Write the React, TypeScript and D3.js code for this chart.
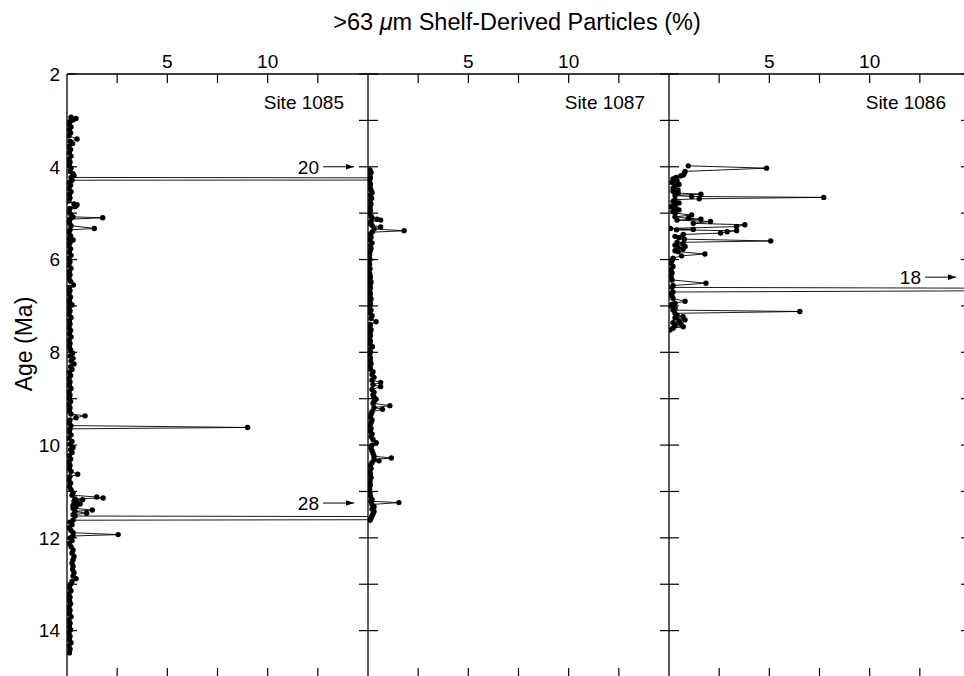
import React from 'react';
import * as d3 from 'd3';

// ages in Ma, values in % (>63 um shelf-derived particles)
const site1085: [number, number][] = [
  [2.93, 0.2], [2.96, 0.45], [2.99, 0.3], [3.03, 0.15], [3.08, 0.1], [3.14, 0.2], [3.2, 0.12], [3.27, 0.18],
  [3.33, 0.1], [3.4, 0.5], [3.45, 0.15], [3.5, 0.28], [3.56, 0.1], [3.63, 0.18], [3.7, 0.12], [3.77, 0.2],
  [3.84, 0.1], [3.9, 0.15], [3.97, 0.12], [4.03, 0.2], [4.1, 0.15], [4.15, 0.3], [4.19, 0.35], [4.23, 0.2],
  [4.24, 20], [4.285, 20], [4.29, 0.25], [4.34, 0.12], [4.4, 0.18], [4.47, 0.1], [4.54, 0.2], [4.6, 0.12],
  [4.67, 0.15], [4.74, 0.1], [4.8, 0.35], [4.82, 0.5], [4.84, 0.45], [4.86, 0.4], [4.9, 0.15], [4.97, 0.1],
  [5.03, 0.2], [5.08, 0.3], [5.1, 1.78], [5.13, 0.15], [5.2, 0.12], [5.27, 0.2], [5.33, 1.36], [5.36, 0.15],
  [5.42, 0.1], [5.49, 0.18], [5.55, 0.12], [5.58, 0.3], [5.63, 0.15], [5.7, 0.1], [5.77, 0.18], [5.84, 0.12],
  [5.91, 0.2], [5.98, 0.1], [6.05, 0.15], [6.12, 0.1], [6.19, 0.2], [6.26, 0.12], [6.33, 0.15], [6.4, 0.1],
  [6.47, 0.18], [6.55, 0.32], [6.6, 0.12], [6.67, 0.15], [6.74, 0.1], [6.81, 0.18], [6.88, 0.12], [6.94, 0.15],
  [6.98, 0.25], [7.04, 0.1], [7.11, 0.15], [7.18, 0.1], [7.25, 0.2], [7.32, 0.12], [7.39, 0.15], [7.46, 0.1],
  [7.53, 0.18], [7.6, 0.12], [7.67, 0.2], [7.74, 0.1], [7.81, 0.15], [7.88, 0.12], [7.95, 0.18], [8.02, 0.28],
  [8.08, 0.15], [8.13, 0.3], [8.19, 0.2], [8.25, 0.35], [8.31, 0.18], [8.37, 0.25], [8.43, 0.12], [8.5, 0.18],
  [8.57, 0.1], [8.64, 0.15], [8.71, 0.12], [8.78, 0.2], [8.85, 0.1], [8.92, 0.15], [8.99, 0.12], [9.06, 0.18],
  [9.13, 0.1], [9.2, 0.15], [9.27, 0.12], [9.33, 0.2], [9.37, 0.9], [9.41, 0.45], [9.46, 0.15], [9.52, 0.12],
  [9.58, 0.2], [9.62, 9.0], [9.65, 0.15], [9.71, 0.12], [9.78, 0.2], [9.85, 0.1], [9.92, 0.25], [9.98, 0.15],
  [10.05, 0.3], [10.1, 0.18], [10.16, 0.25], [10.23, 0.12], [10.3, 0.18], [10.37, 0.1], [10.44, 0.15], [10.51, 0.12],
  [10.57, 0.2], [10.63, 0.53], [10.68, 0.15], [10.75, 0.1], [10.82, 0.18], [10.89, 0.12], [10.96, 0.2], [11.03, 0.3],
  [11.08, 0.25], [11.12, 1.48], [11.14, 1.8], [11.16, 0.4], [11.18, 0.78], [11.21, 0.35], [11.24, 0.5], [11.27, 0.65],
  [11.3, 0.3], [11.33, 0.45], [11.36, 0.3], [11.4, 1.26], [11.43, 0.4], [11.47, 0.98], [11.5, 0.3], [11.53, 0.4],
  [11.55, 28], [11.6, 28], [11.62, 0.3], [11.66, 0.15], [11.72, 0.25], [11.78, 0.12], [11.84, 0.2], [11.89, 0.3],
  [11.93, 2.55], [11.96, 0.3], [12.0, 0.15], [12.06, 0.25], [12.12, 0.12], [12.19, 0.2], [12.26, 0.3], [12.33, 0.25],
  [12.4, 0.35], [12.47, 0.3], [12.54, 0.25], [12.61, 0.3], [12.68, 0.28], [12.75, 0.35], [12.82, 0.3], [12.88, 0.45],
  [12.94, 0.25], [13.0, 0.18], [13.07, 0.12], [13.14, 0.2], [13.21, 0.1], [13.28, 0.15], [13.35, 0.12], [13.42, 0.18],
  [13.49, 0.1], [13.56, 0.15], [13.63, 0.12], [13.7, 0.2], [13.77, 0.1], [13.84, 0.15], [13.91, 0.12], [13.98, 0.18],
  [14.05, 0.1], [14.12, 0.15], [14.19, 0.12], [14.26, 0.2], [14.33, 0.1], [14.4, 0.15], [14.48, 0.12],
];

const site1087: [number, number][] = [
  [4.07, 0.1], [4.12, 0.15], [4.18, 0.1], [4.24, 0.12], [4.3, 0.08], [4.37, 0.12], [4.44, 0.1], [4.5, 0.15],
  [4.56, 0.2], [4.62, 0.12], [4.68, 0.18], [4.74, 0.1], [4.8, 0.15], [4.87, 0.1], [4.94, 0.12], [5.0, 0.08],
  [5.06, 0.15], [5.1, 0.2], [5.13, 0.45], [5.15, 0.63], [5.18, 0.15], [5.22, 0.1], [5.26, 0.2], [5.3, 0.63],
  [5.34, 0.3], [5.38, 1.8], [5.41, 0.2], [5.46, 0.1], [5.52, 0.15], [5.58, 0.1], [5.64, 0.2], [5.7, 0.12],
  [5.76, 0.15], [5.82, 0.1], [5.9, 0.08], [6.0, 0.1], [6.1, 0.08], [6.2, 0.1], [6.3, 0.08], [6.37, 0.12],
  [6.43, 0.1], [6.49, 0.15], [6.55, 0.1], [6.61, 0.12], [6.67, 0.08], [6.73, 0.12], [6.79, 0.1], [6.85, 0.15],
  [6.91, 0.1], [6.97, 0.12], [7.03, 0.08], [7.09, 0.15], [7.15, 0.1], [7.21, 0.2], [7.27, 0.15], [7.34, 0.4],
  [7.4, 0.12], [7.46, 0.1], [7.52, 0.15], [7.58, 0.1], [7.64, 0.12], [7.7, 0.08], [7.76, 0.12], [7.82, 0.1],
  [7.88, 0.22], [7.94, 0.1], [8.0, 0.12], [8.06, 0.08], [8.12, 0.12], [8.18, 0.1], [8.24, 0.15], [8.3, 0.1],
  [8.36, 0.12], [8.42, 0.25], [8.48, 0.2], [8.54, 0.3], [8.6, 0.2], [8.65, 0.63], [8.7, 0.25], [8.74, 0.63],
  [8.8, 0.2], [8.86, 0.3], [8.92, 0.25], [8.97, 0.3], [9.01, 0.4], [9.06, 0.3], [9.1, 0.25], [9.15, 1.09],
  [9.19, 0.3], [9.23, 0.72], [9.28, 0.2], [9.34, 0.15], [9.4, 0.12], [9.46, 0.2], [9.52, 0.15], [9.58, 0.1],
  [9.64, 0.15], [9.7, 0.12], [9.76, 0.2], [9.82, 0.15], [9.88, 0.25], [9.95, 0.41], [10.0, 0.2], [10.06, 0.15],
  [10.12, 0.2], [10.18, 0.25], [10.24, 0.3], [10.28, 1.16], [10.31, 0.3], [10.34, 0.55], [10.38, 0.2], [10.44, 0.12],
  [10.5, 0.15], [10.56, 0.1], [10.62, 0.12], [10.7, 0.15], [10.78, 0.1], [10.86, 0.12], [10.94, 0.08], [11.02, 0.1],
  [11.1, 0.12], [11.17, 0.2], [11.21, 0.15], [11.24, 1.54], [11.28, 0.2], [11.33, 0.3], [11.38, 0.2], [11.43, 0.3],
  [11.48, 0.25], [11.53, 0.2], [11.58, 0.15], [11.62, 0.1],
];

const site1086: [number, number][] = [
  [3.98, 0.96], [4.03, 4.86], [4.1, 0.8], [4.15, 0.75], [4.18, 0.71], [4.2, 0.58], [4.23, 0.35], [4.26, 0.2],
  [4.3, 0.4], [4.34, 0.15], [4.38, 0.5], [4.42, 0.3], [4.46, 0.2], [4.5, 0.45], [4.53, 0.2], [4.57, 0.46],
  [4.59, 1.59], [4.62, 0.3], [4.64, 1.13], [4.66, 7.71], [4.69, 1.51], [4.71, 0.3], [4.75, 0.2], [4.78, 0.5],
  [4.82, 0.3], [4.86, 0.1], [4.9, 0.35], [4.93, 0.5], [4.96, 0.2], [5.0, 0.3], [5.04, 1.13], [5.08, 0.3],
  [5.11, 0.96], [5.13, 1.59], [5.15, 0.4], [5.18, 2.07], [5.22, 1.21], [5.25, 3.78], [5.29, 3.37], [5.33, 0.08],
  [5.35, 1.21], [5.36, 0.38], [5.38, 3.37], [5.4, 2.9], [5.43, 2.57], [5.46, 0.71], [5.5, 0.3], [5.53, 0.5],
  [5.56, 0.76], [5.6, 5.07], [5.63, 0.4], [5.66, 0.7], [5.69, 0.3], [5.72, 0.8], [5.75, 0.45], [5.78, 0.7],
  [5.81, 0.3], [5.83, 0.46], [5.88, 1.79], [5.92, 0.63], [5.97, 0.2], [6.02, 0.15], [6.08, 0.1], [6.15, 0.2],
  [6.22, 0.1], [6.29, 0.15], [6.37, 0.1], [6.44, 0.15], [6.51, 1.84], [6.56, 0.2], [6.6, 0.15], [6.62, 18],
  [6.67, 18], [6.7, 0.2], [6.73, 0.1], [6.79, 0.15], [6.84, 0.2], [6.9, 0.8], [6.94, 0.3], [6.97, 0.15],
  [7.0, 0.05], [7.05, 0.3], [7.09, 0.2], [7.12, 6.52], [7.16, 0.3], [7.2, 0.4], [7.23, 0.7], [7.26, 0.3],
  [7.3, 0.8], [7.33, 0.5], [7.36, 0.2], [7.39, 0.6], [7.42, 0.3], [7.45, 0.71], [7.48, 0.2], [7.52, 0.05],
];

const siteNames = ['Site 1085', 'Site 1087', 'Site 1086'];
const siteData = [site1085, site1087, site1086];

const pctTicks = [2.5, 5, 7.5, 10, 12.5];
const pctLabels = [5, 10];
const ageTicks = [2, 3, 4, 5, 6, 7, 8, 9, 10, 11, 12, 13, 14, 15];
const ageLabels = [2, 4, 6, 8, 10, 12, 14];

// off-scale markers: panel, label, age where the arrow is drawn
const offScale = [
  { panel: 0, label: '20', age: 4.0 },
  { panel: 0, label: '28', age: 11.25 },
  { panel: 2, label: '18', age: 6.38 },
];

const W = 964;
const H = 676;
const left = 67;
const top = 74;
const bottom = 677;
const panelW = 301;
const font = 'Liberation Sans, Arial, Helvetica, sans-serif';

export default function App() {
  const y = d3.scaleLinear().domain([2, 15]).range([top, bottom]);
  const panels = siteNames.map((_, i) => {
    const x0 = left + i * panelW;
    return d3.scaleLinear().domain([0, 15]).range([x0, x0 + panelW]);
  });

  return (
    <svg width={W} height={H} style={{ position: 'absolute', left: 0, top: 0, background: '#fff' }}
      fontFamily={font}>
      <defs>
        {panels.map((x, i) => (
          <clipPath id={'clip' + i} key={i}>
            <rect x={x(0)} y={top - 5} width={panelW} height={bottom - top + 10} />
          </clipPath>
        ))}
        <marker id="arrow" viewBox="0 0 10 10" refX="10" refY="5" markerWidth="8" markerHeight="8"
          markerUnits="userSpaceOnUse" orient="auto">
          <path d="M0,1.5 L10,5 L0,8.5 Z" fill="#000" />
        </marker>
      </defs>

      {/* title */}
      <text x={517} y={30} textAnchor="middle" fontSize={23.5}>
        {'>63 '}<tspan fontStyle="italic">μ</tspan>{'m Shelf-Derived Particles (%)'}
      </text>
      <text transform={`translate(32,344) rotate(-90)`} textAnchor="middle" fontSize={23}>Age (Ma)</text>

      {/* frame: top and bottom lines */}
      <line x1={left} x2={left + 3 * panelW} y1={top} y2={top} stroke="#000" strokeWidth={1.3} />
      <line x1={left} x2={left + 3 * panelW} y1={bottom} y2={bottom} stroke="#000" strokeWidth={1.3} />

      {panels.map((x, i) => (
        <g key={'ax' + i}>
          {pctTicks.map(t => (
            <g key={t}>
              <line x1={x(t)} x2={x(t)} y1={top} y2={top + 9} stroke="#000" strokeWidth={1.2} />
              <line x1={x(t)} x2={x(t)} y1={bottom - 9} y2={bottom} stroke="#000" strokeWidth={1.2} />
            </g>
          ))}
          {pctLabels.map(t => (
            <text key={t} x={x(t)} y={top - 6} textAnchor="middle" fontSize={19}>{t}</text>
          ))}
          <text x={x(0) + 277} y={top + 35} textAnchor="end" fontSize={19}>{siteNames[i]}</text>
        </g>
      ))}

      {/* vertical axes */}
      {[0, 1, 2, 3].map(i => {
        const xv = left + i * panelW;
        return (
          <g key={'v' + i}>
            <line x1={xv} x2={xv} y1={top} y2={bottom} stroke="#000" strokeWidth={1.3} />
            {ageTicks.map(a => (
              <line key={a} x1={i === 0 ? xv : xv - 9} x2={xv + 10} y1={y(a)} y2={y(a)}
                stroke="#000" strokeWidth={1.2} />
            ))}
          </g>
        );
      })}
      {ageLabels.map(a => (
        <text key={a} x={left - 7} y={y(a)} dy="0.36em" textAnchor="end" fontSize={19}>{a}</text>
      ))}

      {/* data */}
      {siteData.map((data, i) => {
        const x = panels[i];
        const line = d3.line<[number, number]>().x(d => x(d[1])).y(d => y(d[0]));
        return (
          <g key={'d' + i} clipPath={`url(#clip${i})`}>
            <path d={line(data) || ''} fill="none" stroke="#000" strokeWidth={0.9} />
            {data.filter(d => d[1] <= 15).map((d, j) => (
              <circle key={j} cx={x(d[1])} cy={y(d[0])} r={2.7} fill="#000" />
            ))}
          </g>
        );
      })}

      {/* off-scale annotations */}
      {offScale.map((o, k) => {
        const xr = panels[o.panel](15);
        const yy = y(o.age);
        return (
          <g key={'o' + k}>
            <text x={xr - 49} y={yy} dy="0.36em" textAnchor="end" fontSize={19}>{o.label}</text>
            <line x1={xr - 45} x2={xr - 14} y1={yy} y2={yy} stroke="#000" strokeWidth={1}
              markerEnd="url(#arrow)" />
          </g>
        );
      })}
    </svg>
  );
}
